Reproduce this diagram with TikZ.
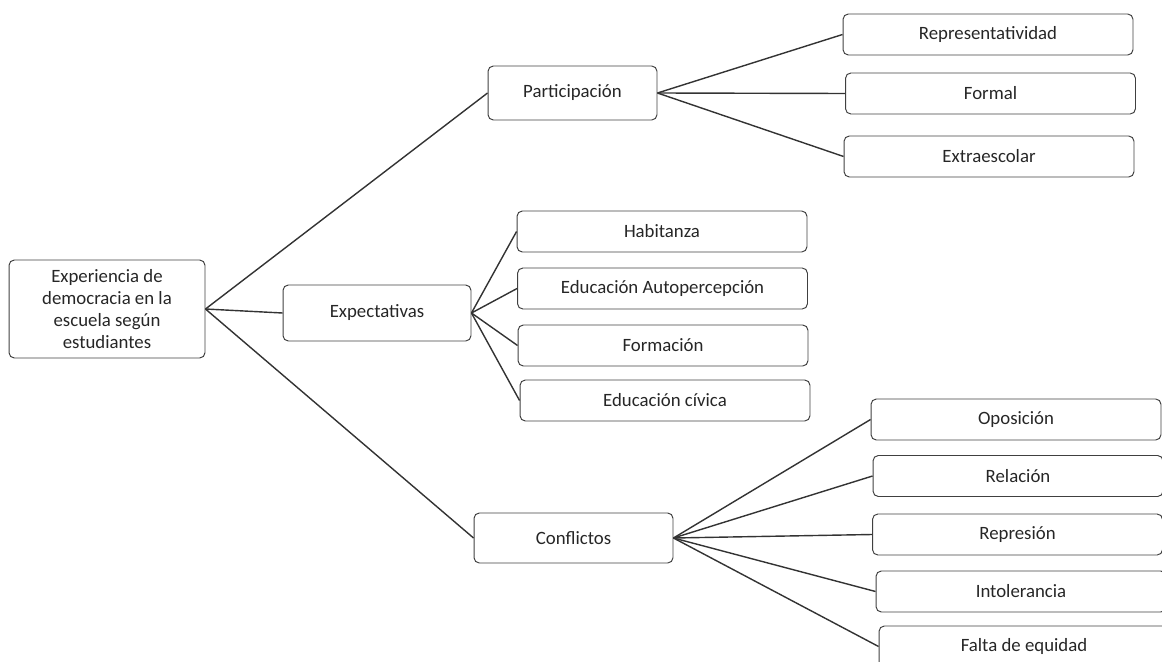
\documentclass[tikz,border=0pt]{standalone}
\usepackage{fontspec}
\setmainfont{Carlito}
\usetikzlibrary{positioning}

\begin{document}
\begin{tikzpicture}[x=0.02cm, y=-0.02cm,
  box/.style={draw=black!75, rounded corners=3pt, line width=0.55pt, align=center, text=black!85,
    font=\fontsize{10.7pt}{12.6pt}\selectfont, inner sep=1pt},
  leaf/.style={box, minimum width=5.8cm, minimum height=0.82cm},
  link/.style={draw=black!80, line width=0.8pt}]
\useasboundingbox (0,0) rectangle (1162,662);
% root
\node[box, minimum width=3.92cm, minimum height=1.96cm] (root) at (107,309)
  {Experiencia de\\democracia en la\\escuela según\\estudiantes};
% categories
\node[box, minimum width=3.38cm, minimum height=1.08cm] (part) at (572.5,93) {Participación};
\node[box, minimum width=3.76cm, minimum height=1.12cm] (expe) at (377,313) {Expectativas};
\node[box, minimum width=3.98cm, minimum height=1.0cm] (conf) at (573.5,538) {Conflictos};
% participacion
\node[leaf] (repr) at (988,34.5) {Representatividad};
\node[leaf] (form) at (990.5,93.5) {Formal};
\node[leaf] (extr) at (989,156.5) {Extraescolar};
% expectativas
\node[leaf] (habi) at (662,231.5) {Habitanza};
\node[leaf] (auto) at (662.5,288.5) {Educación Autopercepción};
\node[leaf] (fmcn) at (663,345.5) {Formación};
\node[leaf] (civi) at (665,400.5) {Educación cívica};
% conflictos
\node[leaf] (opos) at (1016,419.5) {Oposición};
\node[leaf] (rela) at (1018,476) {Relación};
\node[leaf] (repn) at (1017.5,534.5) {Represión};
\node[leaf] (into) at (1021,591.5) {Intolerancia};
\node[leaf] (falt) at (1024,646.5) {Falta de equidad};
% connectors
\foreach \c in {part,expe,conf} \draw[link] (root.east) -- (\c.west);
\foreach \c in {repr,form,extr} \draw[link] (part.east) -- (\c.west);
\foreach \c in {habi,auto,fmcn,civi} \draw[link] (expe.east) -- (\c.west);
\foreach \c in {opos,rela,repn,into,falt} \draw[link] (conf.east) -- (\c.west);
\end{tikzpicture}
\end{document}
